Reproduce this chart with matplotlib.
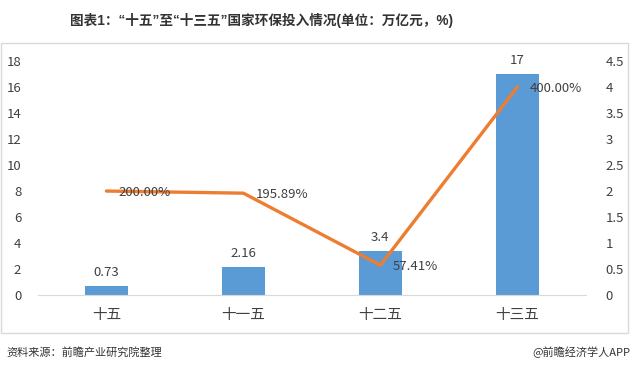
import matplotlib
matplotlib.use("Agg")
import matplotlib.pyplot as plt
from matplotlib.patches import Rectangle

plt.rcParams['font.family'] = ['Noto Sans CJK SC', 'DejaVu Sans']

# data
periods = ['十五', '十一五', '十二五', '十三五']
invest = [0.73, 2.16, 3.4, 17]            # 万亿元
growth = [2.0, 1.9589, 0.5741, 4.0]        # ratio, shown as %
growth_labels = ['200.00%', '195.89%', '57.41%', '400.00%']
left_ticks = [0, 2, 4, 6, 8, 10, 12, 14, 16, 18]
right_ticks = [0, 0.5, 1, 1.5, 2, 2.5, 3, 3.5, 4, 4.5]
right_tick_labels = ['0', '0.5', '1', '1.5', '2', '2.5', '3', '3.5', '4', '4.5']

BAR_C = '#5B9BD5'
LINE_C = '#ED7D31'
TXT = '#404040'

fig = plt.figure(figsize=(6.32, 3.74), dpi=100)

# outer frame of the chart
fig.patches.append(Rectangle((0.002, 0.11), 0.992, 0.775, transform=fig.transFigure,
                             fill=False, edgecolor='#d9d9d9', linewidth=1.0))

# latin glyphs (narrow quotes) from Liberation Sans, CJK from the CJK family
fig.text(0.413, 0.945, '图表1：“十五”至“十三五”国家环保投入情况(单位：万亿元，%)',
         ha='center', va='center', fontsize=9.8, fontweight='bold', color='#333333',
         family=['Liberation Sans', 'Noto Sans CJK SC'])
fig.text(0.01, 0.058, '资料来源：前瞻产业研究院整理', ha='left', va='center',
         fontsize=8, color='#333333')
fig.text(0.997, 0.058, '@前瞻经济学人APP', ha='right', va='center',
         fontsize=8, color='#333333')

ax = fig.add_axes([0.060, 0.211, 0.867, 0.626])
x = range(len(periods))
bars = ax.bar(x, invest, width=0.31, color=BAR_C, zorder=2)
ax.set_ylim(0, 18)
ax.set_xlim(-0.5, len(periods) - 0.5)
ax.set_yticks(left_ticks)
ax.set_xticks(list(x))
ax.set_xticklabels(periods, fontsize=10)
ax.tick_params(axis='both', length=0, colors=TXT, labelsize=9.5)
ax.tick_params(axis='x', pad=9, labelsize=10.5)
ax.tick_params(axis='y', pad=12)
for s in ['top', 'right', 'left']:
    ax.spines[s].set_visible(False)
ax.spines['bottom'].set_color('#d9d9d9')

for xi, v in zip(x, invest):
    ax.annotate(f'{v:g}', (xi, v), xytext=(0, 5), textcoords='offset points',
                ha='center', va='bottom', fontsize=9.5, color=TXT)

ax2 = ax.twinx()
ax2.plot(list(x), growth, color=LINE_C, linewidth=2.4, solid_capstyle='round',
         solid_joinstyle='round', zorder=3)
ax2.set_ylim(0, 4.5)
ax2.set_yticks(right_ticks)
ax2.set_yticklabels(right_tick_labels)
ax2.tick_params(axis='y', length=0, colors=TXT, labelsize=9.5, pad=14)
for s in ['top', 'right', 'left', 'bottom']:
    ax2.spines[s].set_visible(False)

for xi, v, lab in zip(x, growth, growth_labels):
    ax2.annotate(lab, (xi, v), xytext=(9, -1), textcoords='offset points',
                 ha='left', va='center', fontsize=9.5, color=TXT)

fig.savefig('out.png', dpi=100)
